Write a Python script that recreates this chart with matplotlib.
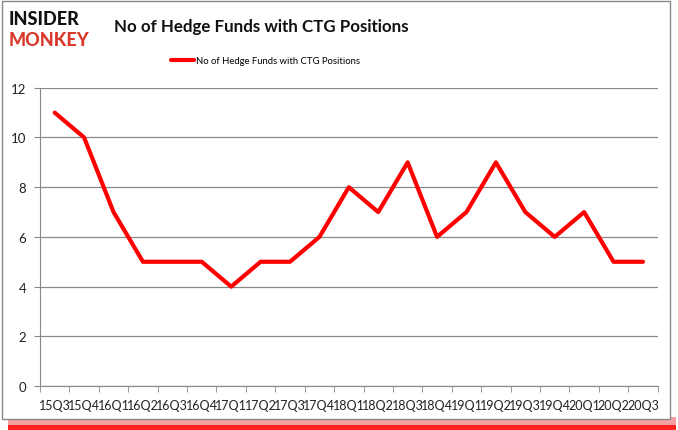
import matplotlib.pyplot as plt
from matplotlib.patches import Rectangle
from matplotlib.ticker import FixedLocator

quarters = ["15Q3", "15Q4", "16Q1", "16Q2", "16Q3", "16Q4", "17Q1", "17Q2", "17Q3", "17Q4",
            "18Q1", "18Q2", "18Q3", "18Q4", "19Q1", "19Q2", "19Q3", "19Q4", "20Q1", "20Q2", "20Q3"]
funds = [11, 10, 7, 5, 5, 5, 4, 5, 5, 6, 8, 7, 9, 6, 7, 9, 7, 6, 7, 5, 5]
series_name = "No of Hedge Funds with CTG Positions"

plt.rcParams["font.family"] = ["Lato", "DejaVu Sans"]

fig = plt.figure(figsize=(6.78, 4.31), dpi=100)

# red shadow and gray frame around the chart
fig.patches.append(Rectangle((0.012, 0.0), 0.985, 0.03, transform=fig.transFigure,
                             facecolor="#f4a0a0", edgecolor="none", zorder=0))
fig.patches.append(Rectangle((0.012, 0.0), 0.985, 0.012, transform=fig.transFigure,
                             facecolor="#ff2020", edgecolor="none", zorder=0))
fig.patches.append(Rectangle((0.003, 0.025), 0.985, 0.97, transform=fig.transFigure,
                             facecolor="white", edgecolor="#888888", linewidth=1, zorder=1))

ax = fig.add_axes([0.059, 0.102, 0.911, 0.692])
ax.set_zorder(2)
ax.patch.set_alpha(0)

x = list(range(len(quarters)))
ax.plot(x, funds, color="#ff0000", linewidth=3, label=series_name, solid_capstyle="round")

ax.set_xlim(-0.5, len(quarters) - 0.5)
ax.set_ylim(0, 12)
ax.set_yticks(range(0, 13, 2))
ax.set_xticks(x)
ax.set_xticklabels(quarters, fontsize=9, color="#222222")
ax.tick_params(axis="x", length=0, pad=9)
ax.xaxis.set_minor_locator(FixedLocator([i - 0.5 for i in range(len(quarters) + 1)]))
ax.tick_params(axis="x", which="minor", length=4, color="#888888", direction="out")
ax.tick_params(axis="y", length=4, color="#888888", labelsize=9.5, labelcolor="#222222", pad=6)

ax.grid(True, axis="y", color="#888888", linewidth=0.9)
ax.set_axisbelow(True)
for side in ["top", "right"]:
    ax.spines[side].set_visible(False)
for side in ["left", "bottom"]:
    ax.spines[side].set_color("#888888")

ax.legend(loc="center left", bbox_to_anchor=(0.212, 1.09), frameon=False, fontsize=6.8,
          handlelength=2.4, handletextpad=0.25, borderpad=0, borderaxespad=0)

fig.text(0.385, 0.937, "No of Hedge Funds with CTG Positions", ha="center", va="center",
         fontsize=12.2, fontweight="bold", color="#111111", zorder=3)

fig.text(0.012, 0.955, "INSIDER", ha="left", va="center", fontsize=13, fontweight="black",
         color="#111111", zorder=3)
fig.text(0.012, 0.905, "MONKEY", ha="left", va="center", fontsize=13, fontweight="black",
         color="#d9392a", zorder=3)

fig.savefig("out.png", dpi=100)
